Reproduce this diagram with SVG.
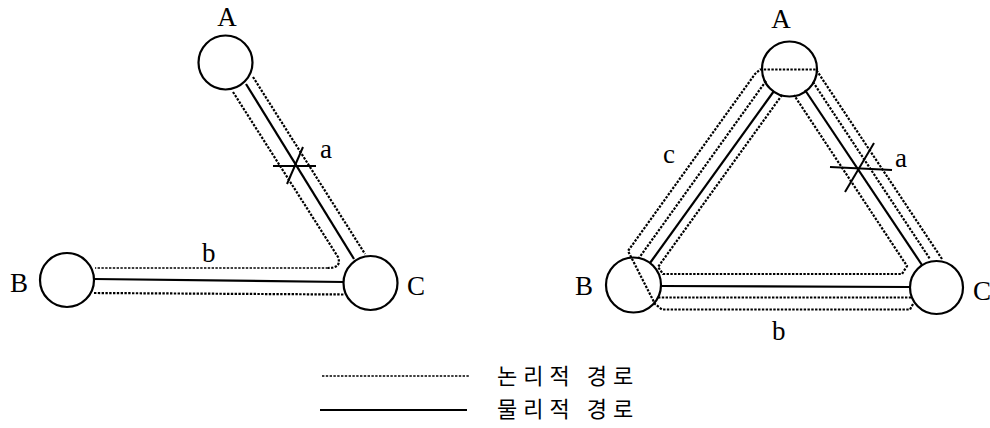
<svg xmlns="http://www.w3.org/2000/svg" width="990" height="428" viewBox="0 0 990 428">
<style>
.node{fill:#fff;stroke:#000;stroke-width:2.2}
.solid{fill:none;stroke:#000;stroke-width:2.2}
.dot{fill:none;stroke:#000;stroke-width:2.2;stroke-dasharray:2.4 1.4}
.thin{stroke-width:1.6}
.cut{fill:none;stroke:#000;stroke-width:2}
.lbl{font-family:"Liberation Serif","Times New Roman",serif;font-size:27px;fill:#000}
.leg{font-family:"Noto Sans CJK KR","Noto Sans",sans-serif;font-size:22px;fill:#000;letter-spacing:6px}
</style>
<rect width="990" height="428" fill="#fff"/>
<g id="left-A"><circle class="node" cx="225.5" cy="62.5" r="27"/><text class="lbl" x="227" y="26" text-anchor="middle">A</text></g>
<g id="left-B"><circle class="node" cx="67" cy="280" r="27"/><text class="lbl" x="19" y="292" text-anchor="middle">B</text></g>
<g id="left-C"><circle class="node" cx="370.5" cy="283" r="27"/><text class="lbl" x="416" y="295" text-anchor="middle">C</text></g>
<g id="right-A"><circle class="node" cx="789.5" cy="69" r="27.5"/><text class="lbl" x="781" y="28" text-anchor="middle">A</text></g>
<g id="right-B"><circle class="node" cx="633.5" cy="285" r="27.5"/><text class="lbl" x="584" y="295" text-anchor="middle">B</text></g>
<g id="right-C"><circle class="node" cx="936.5" cy="287.5" r="26.5"/><text class="lbl" x="982" y="300" text-anchor="middle">C</text></g>
<g id="connectors">
<!-- left diagram -->
<line class="solid" x1="246" y1="84" x2="354" y2="259"/>
<line class="solid" x1="94" y1="279" x2="344" y2="282"/>
<path class="dot" d="M233,92 L338,257 Q342,268 328,268"/>
<line class="dot thin" x1="328" y1="268" x2="95" y2="268"/>
<line class="dot" x1="253" y1="77" x2="365" y2="254"/>
<line class="dot" x1="94" y1="293" x2="344" y2="294.5"/>
<line class="cut" x1="273" y1="166" x2="316" y2="166"/>
<line class="cut" x1="287" y1="184" x2="303" y2="147"/>
<text class="lbl" x="320" y="158">a</text>
<text class="lbl" x="202" y="262">b</text>
<!-- right diagram solids -->
<line class="solid" x1="774" y1="91" x2="650" y2="263"/>
<line class="solid" x1="805" y1="90" x2="922" y2="265"/>
<line class="solid" x1="661" y1="286" x2="910" y2="287"/>
<!-- inner loop -->
<path class="dot" d="M782,95 L658,267 L663,274 L902,274 L907,266 L794,95"/>
<!-- second outer lines -->
<line class="dot" x1="766" y1="81" x2="639" y2="258"/>
<line class="dot" x1="813" y1="82" x2="930" y2="259"/>
<line class="dot" x1="658" y1="297.5" x2="912" y2="297.5"/>
<!-- outermost route -->
<path class="dot" d="M913,304 L910,309.5 L662,309.5 L655,304 L628,251 L755,74 L760,69.5 L816,69.5 L942,259"/>
<line class="cut" x1="830" y1="167" x2="892" y2="170"/>
<line class="cut" x1="845" y1="192" x2="874" y2="143"/>
<text class="lbl" x="895" y="167">a</text>
<text class="lbl" x="663" y="163">c</text>
<text class="lbl" x="772" y="340">b</text>
<!-- legend -->
<line class="dot thin" x1="322" y1="376" x2="470" y2="376"/>
<line class="solid" x1="320" y1="410" x2="467" y2="410"/>
<text class="leg" x="497" y="384">논리적 경로</text>
<text class="leg" x="497" y="417">물리적 경로</text>
</g>
</svg>
